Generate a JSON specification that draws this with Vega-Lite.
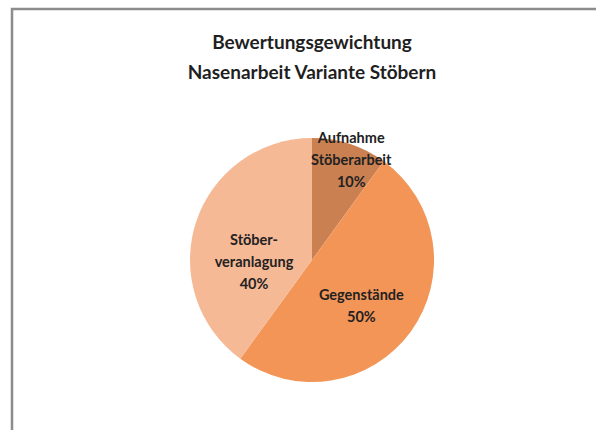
{
  "$schema": "https://vega.github.io/schema/vega-lite/v6.json",
  "autosize": "none",
  "padding": {"left": 12, "top": 9, "right": 0, "bottom": 0},
  "width": 600,
  "height": 502,
  "background": "#ffffff",
  "view": {"stroke": "#8c8c8c", "strokeWidth": 2.5},
  "title": {
    "text": ["Bewertungsgewichtung", "Nasenarbeit Variante Stöbern"],
    "font": "Lato",
    "fontSize": 19,
    "fontWeight": "bold",
    "color": "#1f1f1f",
    "lineHeight": 30,
    "baseline": "top",
    "anchor": "middle",
    "offset": -74
  },
  "data": {
    "values": [
      {"category": "Aufnahme Stöberarbeit", "label": "Aufnahme\nStöberarbeit\n10%", "value": 10},
      {"category": "Gegenstände", "label": "Gegenstände\n50%", "value": 50},
      {"category": "Stöberveranlagung", "label": "Stöber-\nveranlagung\n40%", "value": 40}
    ]
  },
  "encoding": {
    "theta": {"field": "value", "type": "quantitative", "stack": true},
    "order": {"field": "category", "type": "nominal", "sort": ["Aufnahme Stöberarbeit", "Gegenstände", "Stöberveranlagung"]}
  },
  "layer": [
    {
      "mark": {"type": "arc", "outerRadius": 122},
      "encoding": {
        "color": {
          "field": "category",
          "type": "nominal",
          "scale": {
            "domain": ["Aufnahme Stöberarbeit", "Gegenstände", "Stöberveranlagung"],
            "range": ["#cb8052", "#f39557", "#f6b996"]
          },
          "legend": null
        }
      }
    },
    {
      "mark": {
        "type": "text",
        "radius": {"expr": "datum.value < 15 ? 127 : 61"},
        "font": "Lato",
        "fontSize": 14.5,
        "fontWeight": "bold",
        "color": "#222222",
        "lineBreak": "\n",
        "lineHeight": 22,
        "align": "center",
        "baseline": "middle"
      },
      "encoding": {
        "text": {"field": "label", "type": "nominal"}
      }
    }
  ]
}
